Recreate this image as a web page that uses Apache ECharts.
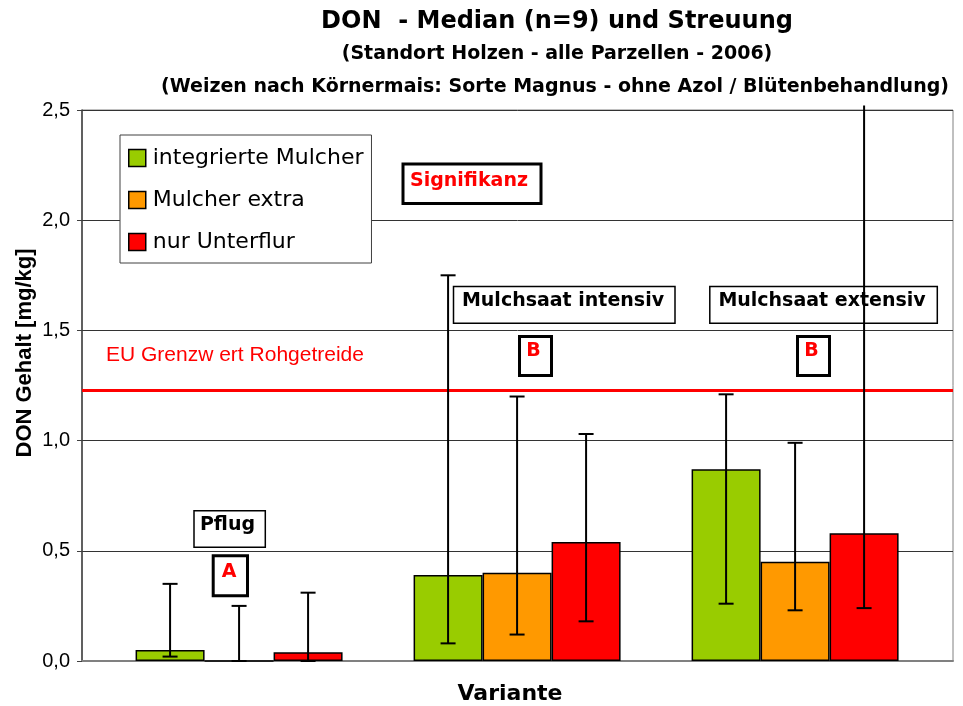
<!DOCTYPE html>
<html>
<head>
<meta charset="utf-8">
<script src="https://cdn.jsdelivr.net/npm/echarts@6/dist/echarts.min.js"></script>
<style>
  html, body { margin: 0; padding: 0; background: #fff; }
  #chart { width: 963px; height: 706px; }
</style>
</head>
<body>
<div id="chart"></div>
<script>
// Gruppen (x-Positionen 0, 1, 2)
const categories = ['Pflug', 'Mulchsaat intensiv', 'Mulchsaat extensiv']
const seriesNames = ['integrierte Mulcher', 'Mulcher extra', 'nur Unterflur']
const seriesColors = ['#99CC00', '#FF9900', '#FF0000']

// Median DON [mg/kg]
const medianIntegriert = [0.05, 0.39, 0.87]
const medianExtra = [0.00, 0.40, 0.45]
const medianUnterflur = [0.04, 0.54, 0.58]

// Streuung (Min / Max)
const minIntegriert = [0.02, 0.08, 0.26]
const maxIntegriert = [0.35, 1.75, 1.21]
const minExtra = [0.00, 0.12, 0.23]
const maxExtra = [0.25, 1.20, 0.99]
const minUnterflur = [0.00, 0.18, 0.24]
const maxUnterflur = [0.31, 1.03, 2.52]

const euGrenzwert = 1.23
const yMax = 2.5
const yStep = 0.5

const BAR_W = 69
const CAP = 7.5

const chart = echarts.init(document.getElementById('chart'))

function barSeries(k, values) {
  return {
    name: seriesNames[k],
    type: 'bar',
    data: values.map((v, i) => [i, v]),
    barWidth: BAR_W,
    barGap: '0%',
    itemStyle: { color: seriesColors[k], borderColor: '#000', borderWidth: 1.5 },
    emphasis: { disabled: true },
    z: 2
  }
}

// Fehlerbalken als custom series, verschoben auf die Balkenmitte
function errorSeries(k, lows, highs) {
  return {
    name: 'err' + k,
    type: 'custom',
    clip: false,
    z: 6,
    silent: true,
    data: lows.map((lo, i) => [i, lo, highs[i]]),
    encode: { x: 0, y: [1, 2] },
    renderItem: function (params, api) {
      const x = api.value(0)
      const hiVal = api.value(2)
      const pLo = api.coord([x, api.value(1)])
      const pHi = api.coord([x, hiVal])
      const cx = pLo[0] + (k - 1) * BAR_W
      const st = { stroke: '#000', lineWidth: 2 }
      const children = [
        { type: 'line', shape: { x1: cx, y1: pLo[1], x2: cx, y2: pHi[1] }, style: st },
        { type: 'line', shape: { x1: cx - CAP, y1: pLo[1], x2: cx + CAP, y2: pLo[1] }, style: st }
      ]
      if (hiVal <= yMax) {
        children.push({ type: 'line', shape: { x1: cx - CAP, y1: pHi[1], x2: cx + CAP, y2: pHi[1] }, style: st })
      }
      return { type: 'group', children }
    }
  }
}

function box(x, y, w, h, lw) {
  return { type: 'rect', z: 3, shape: { x, y, width: w, height: h },
    style: { fill: '#fff', stroke: '#000', lineWidth: lw } }
}
function label(text, x, y, font, color, extra) {
  return Object.assign({ type: 'text', z: 3, x: x, y: y,
    style: { text, font, fill: color || '#000', textAlign: 'center', textVerticalAlign: 'middle' } }, extra || {})
}

const barList = [
  barSeries(0, medianIntegriert),
  barSeries(1, medianExtra),
  barSeries(2, medianUnterflur)
]
barList[0].markLine = {
  silent: true,
  symbol: ['none', 'none'],
  label: { show: false },
  lineStyle: { color: '#FF0000', width: 3, type: 'solid' },
  data: [{ yAxis: euGrenzwert }]
}

const option = {
  animation: false,
  backgroundColor: '#fff',
  grid: {
    left: 82, right: 10, top: 110, bottom: 45,
    show: true, borderColor: '#808080', borderWidth: 1
  },
  legend: {
    data: seriesNames,
    orient: 'vertical',
    left: 120, top: 135,
    padding: [12, 8, 10, 8],
    itemGap: 20,
    itemWidth: 17, itemHeight: 17,
    icon: 'rect',
    backgroundColor: '#fff',
    borderColor: '#404040',
    borderWidth: 1,
    itemStyle: { borderColor: '#000', borderWidth: 1.5 },
    textStyle: { fontFamily: 'DejaVu Sans', fontSize: 22, color: '#000', padding: [0, 0, 0, 2] }
  },
  xAxis: {
    type: 'value',
    min: -0.565, max: 2.568,
    axisLine: { show: true, onZero: false, lineStyle: { color: '#808080', width: 2 } },
    axisTick: { show: false },
    axisLabel: { show: false },
    splitLine: { show: false }
  },
  yAxis: {
    type: 'value',
    min: 0, max: yMax, interval: yStep,
    axisLine: { show: true, onZero: false, lineStyle: { color: '#404040', width: 1.5 } },
    axisTick: { show: true, inside: false, length: 5, lineStyle: { color: '#404040' } },
    axisLabel: {
      color: '#000', fontFamily: 'Liberation Sans', fontSize: 20, margin: 12,
      formatter: v => v.toFixed(1).replace('.', ',')
    },
    splitLine: { show: true, lineStyle: { color: '#333', width: 1 } }
  },
  series: barList.concat([
    errorSeries(0, minIntegriert, maxIntegriert),
    errorSeries(1, minExtra, maxExtra),
    errorSeries(2, minUnterflur, maxUnterflur)
  ]),
  graphic: [
    label('DON  - Median (n=9) und Streuung', 557, 22, 'bold 24px "DejaVu Sans"'),
    label('(Standort Holzen - alle Parzellen - 2006)', 557, 54, 'bold 19px "DejaVu Sans"'),
    label('(Weizen nach Körnermais: Sorte Magnus - ohne Azol / Blütenbehandlung)', 555, 87, 'bold 19px "DejaVu Sans"'),
    label('DON Gehalt [mg/kg]', 25, 353, 'bold 22px "Liberation Sans"', '#000', { rotation: Math.PI / 2 }),
    label('Variante', 510, 694, 'bold 22px "DejaVu Sans"'),
    { type: 'text', z: 3, x: 106, y: 355,
      style: { text: 'EU Grenzw ert Rohgetreide', font: '21px "Liberation Sans"', fill: '#FF0000',
        textAlign: 'left', textVerticalAlign: 'middle' } },
    box(403, 164, 138, 39.5, 3),
    label('Signifikanz', 469, 181, 'bold 19px "DejaVu Sans"', '#FF0000'),
    box(194, 510.7, 71.3, 36.5, 1.5),
    label(categories[0], 227.5, 525, 'bold 19px "DejaVu Sans"'),
    box(213.2, 555.8, 34.3, 40, 3),
    label('A', 229, 572, 'bold 19px "DejaVu Sans"', '#FF0000'),
    box(453.5, 286.5, 221.5, 36.7, 1.5),
    label(categories[1], 563, 301, 'bold 19px "DejaVu Sans"'),
    box(709.8, 286.5, 227.5, 36.7, 1.5),
    label(categories[2], 822, 301, 'bold 19px "DejaVu Sans"'),
    box(519.5, 336.5, 32, 39, 3),
    label('B', 533.5, 351, 'bold 19px "DejaVu Sans"', '#FF0000'),
    box(797.5, 336.5, 32, 39, 3),
    label('B', 811.5, 351, 'bold 19px "DejaVu Sans"', '#FF0000')
  ]
}

chart.setOption(option)
</script>
</body>
</html>
